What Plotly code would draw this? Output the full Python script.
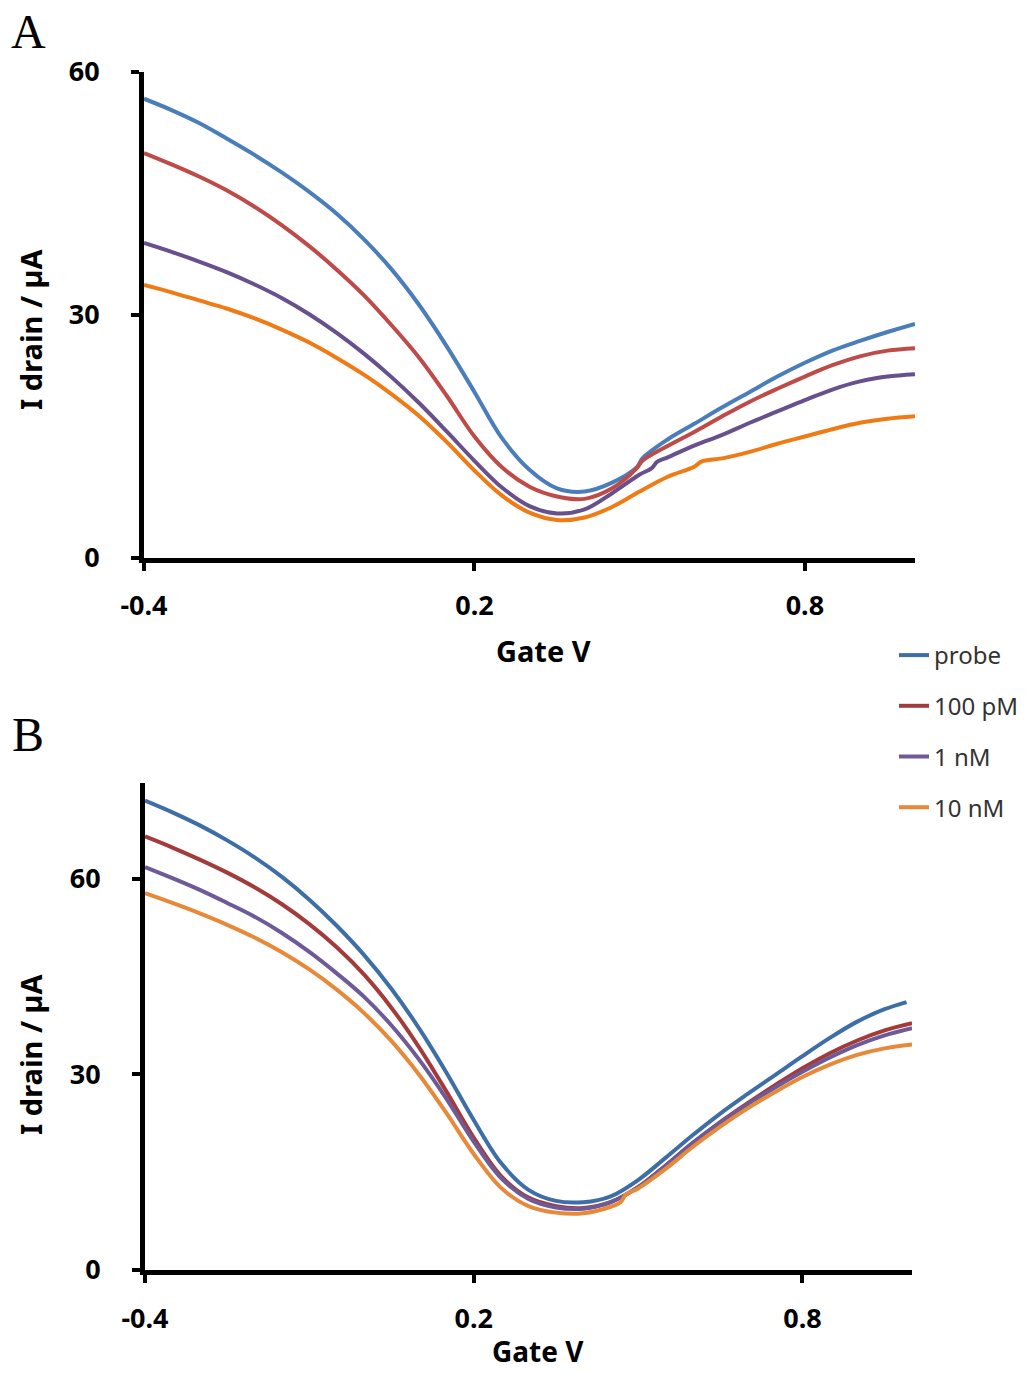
import plotly.graph_objects as go

# ---------------- Panel A data (Gate V, I drain µA) ----------------
a_probe_x = [-0.4, -0.35, -0.3, -0.25, -0.2, -0.15, -0.1, -0.05, 0.0, 0.05, 0.1, 0.15, 0.2, 0.25, 0.3, 0.35, 0.4, 0.45, 0.495, 0.505, 0.55, 0.6, 0.65, 0.7, 0.75, 0.8, 0.85, 0.9, 0.95, 1.0]
a_probe_y = [56.7, 55.3, 53.7, 51.8, 49.8, 47.6, 45.2, 42.5, 39.3, 35.6, 31.2, 26.1, 20.5, 14.8, 10.9, 8.6, 8.2, 9.3, 11.2, 12.3, 14.6, 16.6, 18.6, 20.5, 22.4, 24.1, 25.6, 26.8, 27.9, 28.9]

a_100pm_x = [-0.4, -0.35, -0.3, -0.25, -0.2, -0.15, -0.1, -0.05, 0.0, 0.05, 0.1, 0.15, 0.2, 0.25, 0.3, 0.35, 0.4, 0.45, 0.495, 0.505, 0.55, 0.6, 0.65, 0.7, 0.75, 0.8, 0.85, 0.9, 0.95, 1.0]
a_100pm_y = [50.0, 48.6, 47.1, 45.4, 43.4, 41.1, 38.5, 35.6, 32.4, 28.7, 24.7, 20.0, 15.0, 11.2, 8.8, 7.6, 7.3, 8.6, 11.1, 12.0, 13.8, 15.6, 17.5, 19.3, 20.9, 22.4, 23.8, 24.9, 25.6, 25.9]

a_1nm_x = [-0.4, -0.35, -0.3, -0.25, -0.2, -0.15, -0.1, -0.05, 0.0, 0.05, 0.1, 0.15, 0.2, 0.25, 0.3, 0.35, 0.4, 0.45, 0.5, 0.522, 0.532, 0.55, 0.6, 0.65, 0.7, 0.75, 0.8, 0.85, 0.9, 0.95, 1.0]
a_1nm_y = [38.9, 37.8, 36.6, 35.3, 33.8, 32.1, 30.1, 27.8, 25.2, 22.3, 19.1, 15.6, 12.0, 8.7, 6.4, 5.5, 6.0, 8.0, 10.3, 11.1, 11.9, 12.4, 13.9, 15.2, 16.7, 18.1, 19.5, 20.8, 21.8, 22.4, 22.7]

a_10nm_x = [-0.4, -0.35, -0.3, -0.25, -0.2, -0.15, -0.1, -0.05, 0.0, 0.05, 0.1, 0.15, 0.2, 0.25, 0.3, 0.35, 0.4, 0.45, 0.5, 0.55, 0.6, 0.612, 0.65, 0.7, 0.75, 0.8, 0.85, 0.9, 0.95, 1.0]
a_10nm_y = [33.7, 32.8, 31.8, 30.8, 29.6, 28.2, 26.6, 24.7, 22.6, 20.2, 17.5, 14.3, 10.8, 7.7, 5.6, 4.7, 5.0, 6.3, 8.2, 10.0, 11.3, 11.9, 12.3, 13.1, 14.1, 15.0, 15.9, 16.7, 17.2, 17.5]

# ---------------- Panel B data ----------------
b_probe_x = [-0.4, -0.35, -0.3, -0.25, -0.2, -0.15, -0.1, -0.05, 0.0, 0.05, 0.1, 0.15, 0.2, 0.25, 0.3, 0.35, 0.4, 0.45, 0.5, 0.55, 0.6, 0.65, 0.7, 0.75, 0.8, 0.85, 0.9, 0.95, 0.99]
b_probe_y = [72.0, 70.2, 68.2, 65.9, 63.3, 60.3, 56.8, 52.8, 48.3, 43.1, 37.1, 30.3, 23.0, 16.4, 12.3, 10.6, 10.4, 11.3, 13.8, 17.2, 20.7, 24.0, 27.0, 29.9, 32.8, 35.6, 38.1, 40.0, 41.1]

b_100pm_x = [-0.4, -0.35, -0.3, -0.25, -0.2, -0.15, -0.1, -0.05, 0.0, 0.05, 0.1, 0.15, 0.2, 0.25, 0.3, 0.35, 0.4, 0.45, 0.5, 0.55, 0.6, 0.65, 0.7, 0.75, 0.8, 0.85, 0.9, 0.95, 1.0]
b_100pm_y = [66.5, 64.8, 62.95, 60.95, 58.7, 56.1, 53.05, 49.5, 45.3, 40.2, 34.2, 27.4, 20.3, 14.4, 11.1, 9.8, 9.5, 10.4, 12.7, 16.0, 19.5, 22.7, 25.6, 28.35, 30.95, 33.25, 35.2, 36.75, 37.85]

b_1nm_x = [-0.4, -0.35, -0.3, -0.25, -0.2, -0.15, -0.1, -0.05, 0.0, 0.05, 0.1, 0.15, 0.2, 0.25, 0.3, 0.35, 0.4, 0.45, 0.5, 0.55, 0.6, 0.65, 0.7, 0.75, 0.8, 0.85, 0.9, 0.95, 1.0]
b_1nm_y = [61.8, 60.1, 58.3, 56.3, 54.2, 51.7, 48.8, 45.5, 41.9, 37.5, 32.3, 26.3, 19.7, 14.1, 10.9, 9.6, 9.4, 10.4, 12.7, 16.0, 19.5, 22.6, 25.4, 28.0, 30.4, 32.6, 34.5, 36.0, 37.1]

b_10nm_x = [-0.4, -0.35, -0.3, -0.25, -0.2, -0.15, -0.1, -0.05, 0.0, 0.05, 0.1, 0.15, 0.2, 0.25, 0.3, 0.35, 0.4, 0.45, 0.468, 0.478, 0.5, 0.55, 0.6, 0.65, 0.7, 0.75, 0.8, 0.85, 0.9, 0.95, 1.0]
b_10nm_y = [57.8, 56.3, 54.7, 52.95, 51.0, 48.75, 46.1, 43.0, 39.4, 35.1, 30.0, 24.1, 17.8, 12.6, 9.8, 8.8, 8.7, 9.7, 10.4, 11.6, 12.5, 15.5, 18.9, 22.0, 24.8, 27.3, 29.6, 31.5, 33.0, 34.0, 34.6]

series_names = ["probe", "100 pM", "1 nM", "10 nM"]
colors_a = ["#4A7EBB", "#BE4B48", "#67508C", "#F07A14"]
colors_b = ["#3D6EA6", "#A33B3A", "#6E5A96", "#E8893A"]

x_ticks = [-0.4, 0.2, 0.8]
x_ticktext = ["-0.4", "0.2", "0.8"]
y_ticks = [0, 30, 60]

fig = go.Figure()

panel_a = [(a_probe_x, a_probe_y), (a_100pm_x, a_100pm_y), (a_1nm_x, a_1nm_y), (a_10nm_x, a_10nm_y)]
panel_b = [(b_probe_x, b_probe_y), (b_100pm_x, b_100pm_y), (b_1nm_x, b_1nm_y), (b_10nm_x, b_10nm_y)]

for (xs, ys), name, col in zip(panel_a, series_names, colors_a):
    fig.add_trace(go.Scatter(x=xs, y=ys, mode="lines", name=name, showlegend=False,
                             line=dict(color=col, width=4, shape="spline", smoothing=1.0),
                             xaxis="x", yaxis="y"))
for (xs, ys), name, col in zip(panel_b, series_names, colors_b):
    fig.add_trace(go.Scatter(x=xs, y=ys, mode="lines", name=name, showlegend=True,
                             legendgroup=name,
                             line=dict(color=col, width=4, shape="spline", smoothing=1.0),
                             xaxis="x2", yaxis="y2"))

W, H = 1027, 1373
x_dom = [144 / W, 915 / W]
x_dom_b = [145 / W, 912 / W]
ya_dom = [1 - 558 / H, 1 - 72 / H]
yb_dom = [1 - 1270 / H, 1 - 783 / H]

tickfont = dict(family="Noto Sans", size=27, color="black", weight="bold")
axis_common = dict(showgrid=False, zeroline=False, showline=True, linecolor="black", linewidth=5,
                   ticks="outside", ticklen=8, tickwidth=4, tickcolor="black", tickfont=tickfont)

fig.update_layout(
    width=W, height=H,
    margin=dict(l=0, r=0, t=0, b=0, pad=0, autoexpand=False),
    paper_bgcolor="white", plot_bgcolor="white",
    xaxis=dict(domain=x_dom, anchor="y", range=[-0.4, 1.0], tickvals=x_ticks, ticktext=x_ticktext,
               ticklabelstandoff=12, automargin=False, **axis_common),
    yaxis=dict(domain=ya_dom, anchor="x", range=[0, 60], tickvals=y_ticks,
               ticklabelstandoff=26, automargin=False, **axis_common),
    xaxis2=dict(domain=x_dom_b, anchor="y2", range=[-0.4, 1.0], tickvals=x_ticks, ticktext=x_ticktext,
                ticklabelstandoff=13, automargin=False, **axis_common),
    yaxis2=dict(domain=yb_dom, anchor="x2", range=[0, 74.7], tickvals=y_ticks,
                ticklabelstandoff=26, automargin=False, **axis_common),
    legend=dict(x=894 / W, y=1 - 633 / H, xanchor="left", yanchor="top",
                font=dict(family="Noto Sans", size=24, color="#333333"),
                tracegroupgap=16.5, bgcolor="rgba(0,0,0,0)"),
    showlegend=True,
)

title_font = dict(family="Noto Sans", size=29, color="black", weight="bold")
title_font_b = dict(family="Noto Sans", size=28, color="black", weight="bold")
letter_font = dict(family="Liberation Serif", size=48, color="black")

annotations = [
    dict(text="Gate V", x=543 / W, y=1 - 650 / H, xref="paper", yref="paper",
         showarrow=False, font=title_font, xanchor="center", yanchor="middle"),
    dict(text="Gate V", x=538 / W, y=1 - 1351 / H, xref="paper", yref="paper",
         showarrow=False, font=title_font_b, xanchor="center", yanchor="middle"),
    dict(text="I drain / µA", x=30 / W, y=1 - 330 / H, xref="paper", yref="paper",
         showarrow=False, font=title_font, textangle=-90, xanchor="center", yanchor="middle"),
    dict(text="I drain / µA", x=30 / W, y=1 - 1055 / H, xref="paper", yref="paper",
         showarrow=False, font=title_font, textangle=-90, xanchor="center", yanchor="middle"),
    dict(text="A", x=28 / W, y=1 - 31 / H, xref="paper", yref="paper",
         showarrow=False, font=letter_font, xanchor="center", yanchor="middle"),
    dict(text="B", x=28 / W, y=1 - 734 / H, xref="paper", yref="paper",
         showarrow=False, font=letter_font, xanchor="center", yanchor="middle"),
]
fig.update_layout(annotations=annotations)

fig.write_html("out.html", config={"displayModeBar": False},
               post_script="document.body.style.margin='0px';")
